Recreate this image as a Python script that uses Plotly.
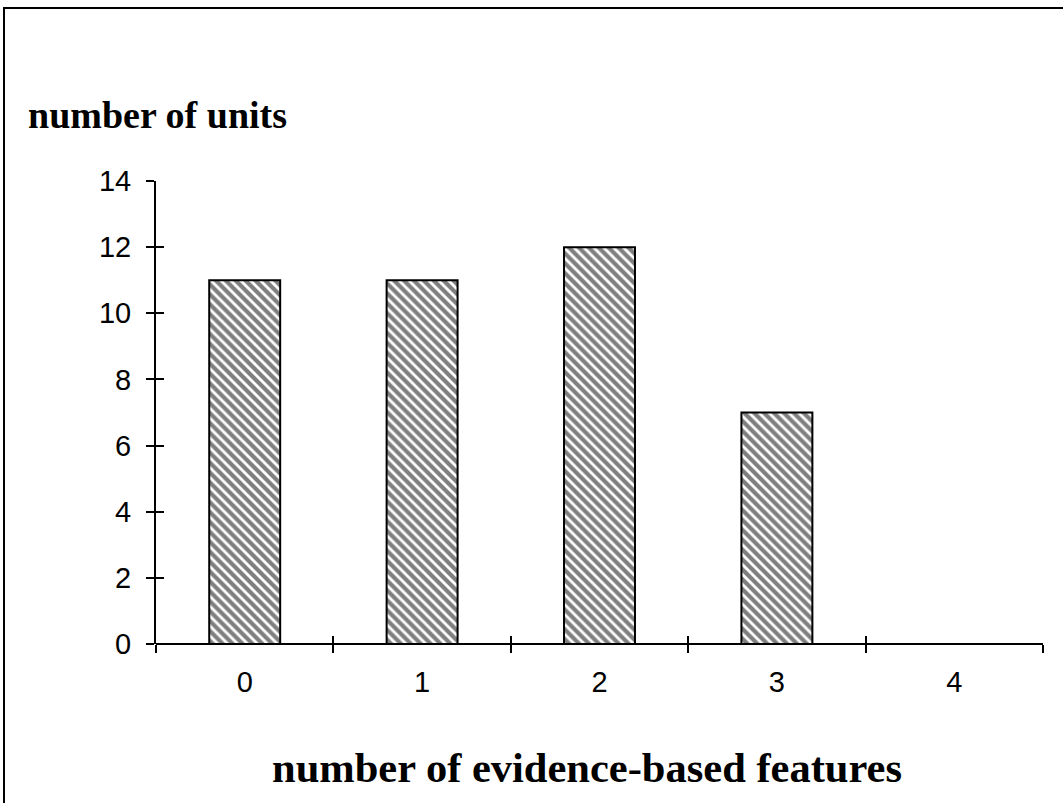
import plotly.graph_objects as go

categories = ["0", "1", "2", "3", "4"]
units = [11, 11, 12, 7, 0]
y_ticks = [0, 2, 4, 6, 8, 10, 12, 14]
x_title = "number of evidence-based features"
y_title = "number of units"

fig = go.Figure()
fig.add_trace(go.Bar(
    x=categories, y=units, width=0.4,
    marker=dict(color="white", line=dict(color="black", width=2),
                pattern=dict(shape="\\", fgcolor="black", bgcolor="white", size=7, solidity=0.6)),
    hoverinfo="x+y",
))
# overlay axes for the inward half of the crossing tick marks
fig.add_trace(go.Scatter(x=[], y=[], xaxis="x2", yaxis="y2", showlegend=False))

tick_font = dict(family="Liberation Sans, Arial", size=29, color="black")
fig.update_layout(
    width=1063, height=803,
    margin=dict(l=156, r=20, t=181, b=159),
    paper_bgcolor="white", plot_bgcolor="white",
    showlegend=False,
    xaxis=dict(type="category", tickson="boundaries", ticks="outside", ticklen=8, tickwidth=2,
               tickcolor="black", showline=False,
               showgrid=False, zeroline=False, tickfont=tick_font, ticklabelstandoff=18),
    yaxis=dict(range=[0, 14], tickvals=y_ticks, ticks="outside", ticklen=8, tickwidth=2,
               tickcolor="black", showline=True, linecolor="black", linewidth=2,
               showgrid=False, zeroline=True, zerolinecolor="black", zerolinewidth=2,
               tickfont=tick_font, ticklabelstandoff=9),
    xaxis2=dict(overlaying="x", range=[-0.5, 4.5], tickvals=[-0.5, 0.5, 1.5, 2.5, 3.5, 4.5],
                ticks="inside", ticklen=8, tickwidth=2, tickcolor="black", showticklabels=False,
                showline=False, showgrid=False, zeroline=False),
    yaxis2=dict(overlaying="y", range=[0, 14], tickvals=y_ticks, ticks="inside", ticklen=8,
                tickwidth=2, tickcolor="black", showticklabels=False, showline=False,
                showgrid=False, zeroline=False),
    annotations=[
        dict(text=f"<b>{y_title}</b>", xref="paper", yref="paper", x=(26 - 156) / 887,
             y=(644 - 115) / 463, xanchor="left", yanchor="middle", showarrow=False,
             font=dict(family="Liberation Serif, Times New Roman", size=38, color="black")),
        dict(text=f"<b>{x_title}</b>", xref="paper", yref="paper", x=(587 - 156) / 887,
             y=(644 - 767) / 463, xanchor="center", yanchor="middle", showarrow=False,
             font=dict(family="Liberation Serif, Times New Roman", size=42.5, color="black")),
    ],
    shapes=[dict(type="rect", xref="paper", yref="paper", x0=(4 - 156) / 887, x1=1.2,
                 y0=-0.6, y1=(644 - 8) / 463, line=dict(color="black", width=2),
                 fillcolor="rgba(0,0,0,0)", layer="above")],
)

fig.write_html("out.html")
